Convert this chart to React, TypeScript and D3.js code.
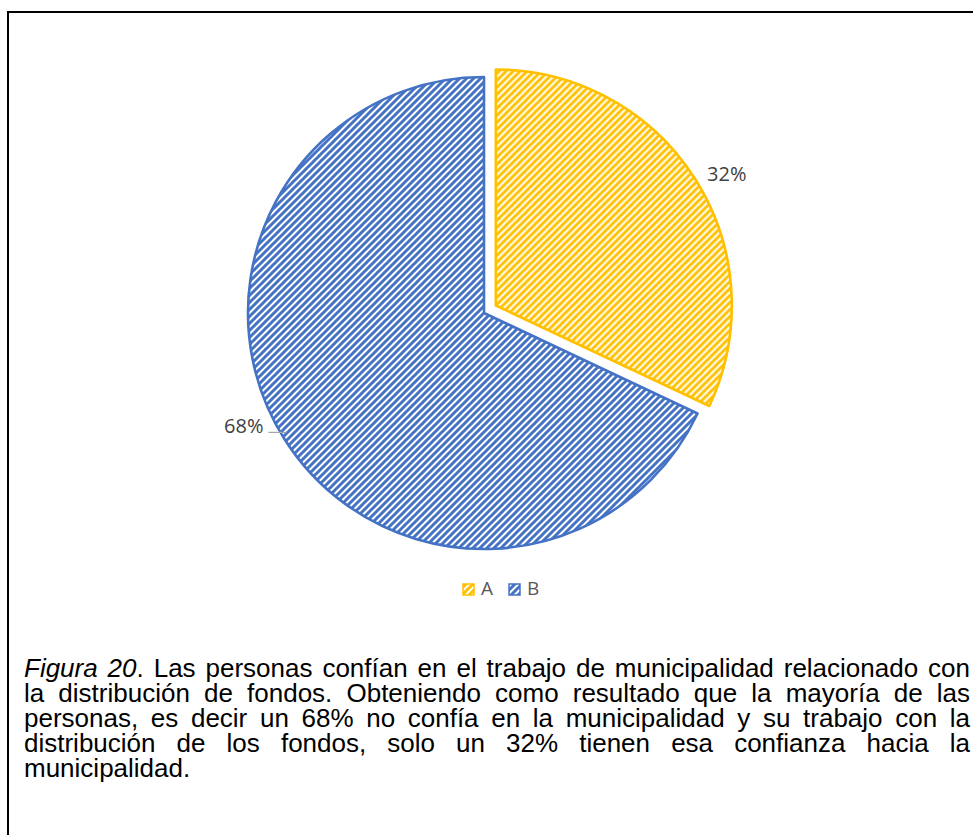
import React, { useMemo } from "react";
import * as d3 from "d3";

const categories = ["A", "B"];
const values = [32, 68];
const labels = ["32%", "68%"];
const colors = ["#FFC000", "#4472C4"];
const captionLines = [
  "Figura 20. Las personas confían en el trabajo de municipalidad relacionado con",
  "la distribución de fondos. Obteniendo como resultado que la mayoría de las",
  "personas, es decir un 68% no confía en la municipalidad y su trabajo con la",
  "distribución de los fondos, solo un 32% tienen esa confianza hacia la",
  "municipalidad.",
];

const W = 973;
const H = 835;
const CX = 484;
const CY = 313;
const R = 236;
const EXPLODE = 14;
const CAP_FONT = 26;
const CAP_X0 = 24;
const CAP_X1 = 970;
const CAP_Y0 = 677;
const CAP_LH = 25;

function measurer() {
  const c = document.createElement("canvas");
  const ctx = c.getContext("2d")!;
  return (t: string, italic: boolean) => {
    ctx.font = `${italic ? "italic " : ""}${CAP_FONT}px "Liberation Sans", Arial, sans-serif`;
    return ctx.measureText(t).width;
  };
}

export default function App() {
  const pie = d3.pie<number>().sort(null).value((d) => d)(values);
  const arc = d3.arc<d3.PieArcDatum<number>>().innerRadius(0).outerRadius(R);

  const caption = useMemo(() => {
    const m = measurer();
    return captionLines.map((line, li) => {
      const words = line.split(" ").map((w, wi) => {
        let segs: { t: string; it: boolean }[];
        if (li === 0 && wi === 0) segs = [{ t: w, it: true }];
        else if (li === 0 && wi === 1) segs = [{ t: "20", it: true }, { t: ".", it: false }];
        else segs = [{ t: w, it: false }];
        const width = segs.reduce((s, g) => s + m(g.t, g.it), 0);
        return { segs, width };
      });
      const total = words.reduce((s, w) => s + w.width, 0);
      const justify = li < captionLines.length - 1;
      const gap = justify ? (CAP_X1 - CAP_X0 - total) / (words.length - 1) : m(" ", false);
      let x = CAP_X0;
      return words.map((w) => {
        const o = { ...w, x };
        x += w.width + gap;
        return o;
      });
    });
  }, []);

  const P = 7;

  return (
    <svg
      width={W}
      height={H}
      style={{ position: "absolute", left: 0, top: 0, background: "#fff" }}
      fontFamily="'Open Sans', sans-serif"
    >
      <defs>
        {colors.map((c, i) => (
          <pattern key={i} id={`hatch${i}`} patternUnits="userSpaceOnUse" width={P} height={P}>
            <rect width={P} height={P} fill="#fff" />
            <path
              d={`M-2,2 L2,-2 M0,${P} L${P},0 M${P - 2},${P + 2} L${P + 2},${P - 2}`}
              stroke={c}
              strokeWidth={3}
            />
          </pattern>
        ))}
      </defs>
      <rect x={8} y={12} width={1100} height={1100} fill="none" stroke="#000" strokeWidth={2} />
      {pie.map((d, i) => {
        const mid = (d.startAngle + d.endAngle) / 2;
        const off = i === 0 ? EXPLODE : 0;
        const dx = Math.sin(mid) * off;
        const dy = -Math.cos(mid) * off;
        return (
          <g key={i} transform={`translate(${CX + dx},${CY + dy})`}>
            <path
              d={arc(d)!}
              fill={`url(#hatch${i})`}
              stroke={colors[i]}
              strokeWidth={2.6}
              strokeLinejoin="round"
            />
          </g>
        );
      })}
      {(() => {
        const a = pie[0];
        const mid = (a.startAngle + a.endAngle) / 2 + 0.05;
        const lr = 279;
        const x = CX + Math.sin(mid) * lr;
        const y = CY - Math.cos(mid) * lr;
        return (
          <text x={x} y={y} textAnchor="middle" dominantBaseline="middle" fontSize={20} fill="#404040">
            {labels[0]}
          </text>
        );
      })()}
      {(() => {
        const b = pie[1];
        const mid = (b.startAngle + b.endAngle) / 2;
        const px = CX + Math.sin(mid) * (R - 2);
        const py = CY - Math.cos(mid) * (R - 2);
        const lx = px - 18;
        return (
          <g>
            <line x1={px} y1={py - 6} x2={lx} y2={py - 6} stroke="#a6a6a6" strokeWidth={1.2} />
            <text x={lx - 5} y={py - 11} textAnchor="end" dominantBaseline="middle" fontSize={20} fill="#404040">
              {labels[1]}
            </text>
          </g>
        );
      })()}
      {categories.map((c, i) => {
        const x = 463 + i * 46;
        return (
          <g key={c}>
            <rect x={x} y={584} width={11} height={11} fill={`url(#hatch${i})`} stroke={colors[i]} strokeWidth={1.5} />
            <text x={x + 18} y={590} dominantBaseline="middle" fontSize={19} fill="#595959">
              {c}
            </text>
          </g>
        );
      })}
      <g fontFamily="'Liberation Sans', Arial, sans-serif" fontSize={CAP_FONT} fill="#000">
        {caption.map((line, li) =>
          line.map((w, wi) => (
            <text key={`${li}-${wi}`} x={w.x} y={CAP_Y0 + li * CAP_LH}>
              {w.segs.map((s, si) => (
                <tspan key={si} fontStyle={s.it ? "italic" : "normal"}>
                  {s.t}
                </tspan>
              ))}
            </text>
          ))
        )}
      </g>
    </svg>
  );
}
